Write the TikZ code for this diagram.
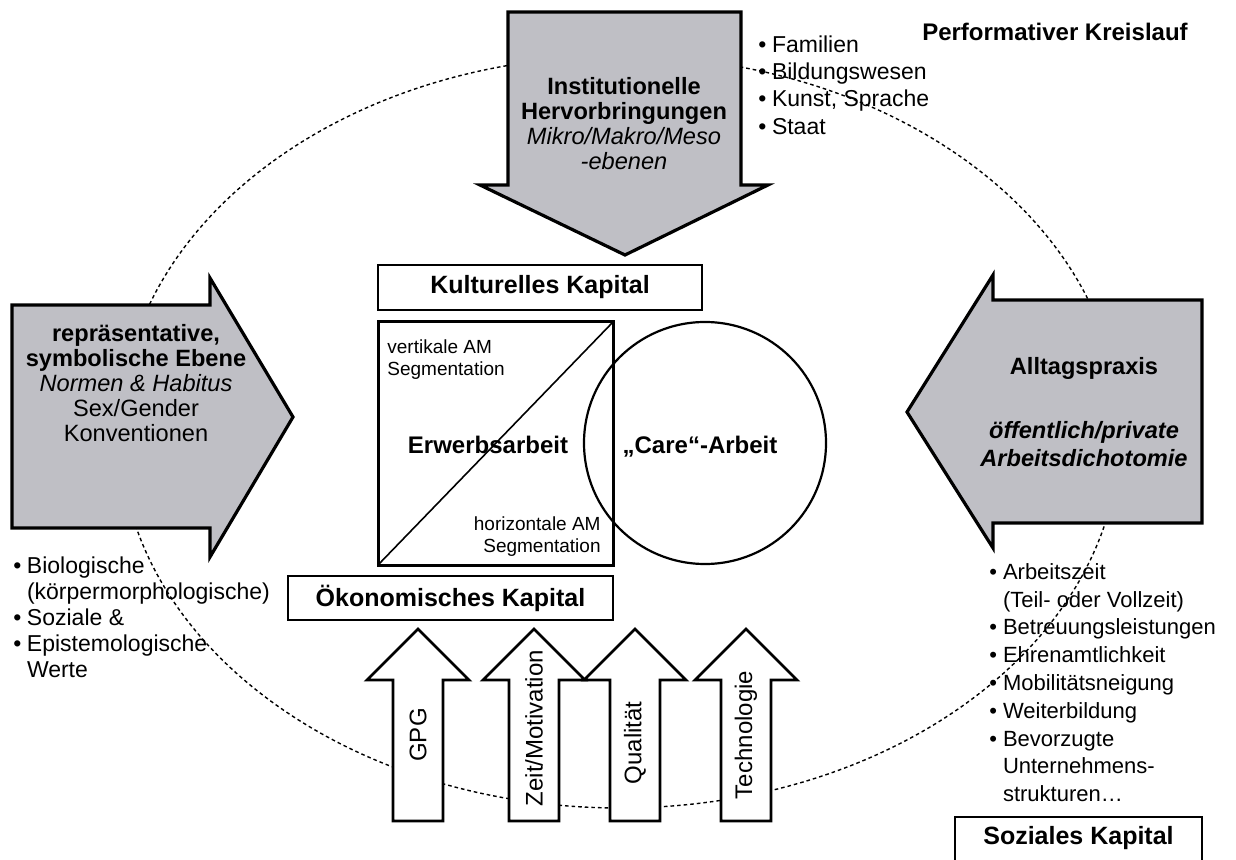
\documentclass[tikz,border=0pt]{standalone}
\usepackage{fontspec}
\setmainfont{Liberation Sans}
\usepackage{tikz}

\definecolor{pfeilgrau}{RGB}{191,191,197}

\newcommand{\punkt}{\makebox[6.8pt][l]{\textbullet}}
\newcommand{\einzug}{\hspace*{6.8pt}}

\tikzset{
    kreislauf/.style={line width=0.7pt, dash pattern=on 1.8pt off 1.5pt},
    grosspfeil/.style={draw=black, line width=1.6pt, fill=pfeilgrau, line join=miter},
    kleinpfeil/.style={draw=black, line width=1.4pt, fill=white, line join=miter},
    kapital/.style={draw=black, line width=1.4pt, fill=white, inner sep=0pt,
        font=\fontsize{12.5}{14}\selectfont\bfseries},
    pfeiltext/.style={align=center, inner sep=0pt, font=\fontsize{11.8}{12.5}\selectfont},
    liste/.style={align=left, anchor=north west, inner sep=0pt, font=\fontsize{11.5}{13.7}\selectfont},
    klein/.style={inner sep=0pt, font=\fontsize{9.5}{11}\selectfont},
}

\begin{document}
\begin{tikzpicture}[x=0.5pt, y=-0.5pt]
    \useasboundingbox (0,0) rectangle (1236,860);
    \clip (0,0) rectangle (1236,860);

    % Dotted circuit
    \draw[kreislauf] (620,432) ellipse [x radius=250pt, y radius=188pt];
    \node[font=\fontsize{12}{14}\selectfont\bfseries, inner sep=0pt] (titel) at (1055,32) {Performativer Kreislauf};

    % Big gray arrows
    \draw[grosspfeil] (508,12) -- (741,12) -- (741,185) -- (768,185) -- (625,255) -- (480,185) -- (508,185) -- cycle;
    \draw[grosspfeil] (12,305) -- (210,305) -- (210,278) -- (293,417) -- (210,557) -- (210,528) -- (12,528) -- cycle;
    \draw[grosspfeil] (1202,300) -- (993,300) -- (993,275) -- (907,412) -- (993,548) -- (993,523) -- (1202,523) -- cycle;

    % Texts of the big arrows
    \node[pfeiltext] (institution) at (624,124) {\textbf{Institutionelle}\\ \textbf{Hervorbringungen}\\ \textit{Mikro/Makro/Meso}\\ \textit{-ebenen}};
    \node[pfeiltext] (symbol) at (136,383) {\textbf{repräsentative,}\\ \textbf{symbolische Ebene}\\ \textit{Normen \& Habitus}\\ Sex/Gender\\ Konventionen};
    \node[pfeiltext, font=\fontsize{11.8}{14}\selectfont\bfseries] (alltag) at (1084,368) {Alltagspraxis};
    \node[pfeiltext, font=\fontsize{11.8}{14}\selectfont\bfseries\itshape] (dichotomie) at (1084,444) {öffentlich/private\\ Arbeitsdichotomie};

    % Lists
    \node[liste] (institutionen) at (758,35) {\punkt Familien\\ \punkt Bildungswesen\\ \punkt Kunst, Sprache\\ \punkt Staat};
    \node[liste, font=\fontsize{11.5}{13}\selectfont] (werte) at (13,556) {\punkt Biologische\\ \einzug(körpermorphologische)\\ \punkt Soziale \&\\ \punkt Epistemologische\\ \einzug Werte};
    \node[liste, font=\fontsize{11}{13.9}\selectfont] (praxis) at (989,563) {\punkt Arbeitszeit\\ \einzug(Teil- oder Vollzeit)\\ \punkt Betreuungsleistungen\\ \punkt Ehrenamtlichkeit\\ \punkt Mobilitätsneigung\\ \punkt Weiterbildung\\ \punkt Bevorzugte\\ \einzug Unternehmens-\\ \einzug strukturen…};

    % Capital boxes
    \node[kapital, minimum width=162pt, minimum height=22.5pt] (kultur) at (540,287.5) {Kulturelles Kapital};
    \node[kapital, minimum width=162.5pt, minimum height=22pt] (oekonomie) at (450.5,598) {Ökonomisches Kapital};
    \node[kapital, minimum width=123.5pt, minimum height=42pt] (sozial) at (1078.5,859) {};
    \node[font=\fontsize{12.5}{14}\selectfont\bfseries, inner sep=0pt] (sozialtext) at (1078.5,838) {Soziales Kapital};

    % Square and circle
    \draw[line width=1.5pt] (378,322) rectangle (613,565);
    \draw[line width=0.8pt] (378,565) -- (613,322);
    \draw[line width=1.1pt] (705,443) circle [radius=60.5pt];
    \node[klein, align=left, anchor=north west] (vertikal) at (387,339) {vertikale AM\\ Segmentation};
    \node[klein, align=right, anchor=north east] (horizontal) at (601,516) {horizontale AM\\ Segmentation};
    \node[font=\fontsize{12}{14}\selectfont\bfseries, inner sep=0pt] (erwerb) at (488,445) {Erwerbsarbeit};
    \node[font=\fontsize{12}{14}\selectfont\bfseries, inner sep=0pt] (care) at (700,447) {„Care“-Arbeit};

    % Small white arrows
    \foreach \cx/\name/\lab/\ly in {418/gpg/GPG/735, 534/zeit/{Zeit/Motivation}/728, 635/qual/Qualität/743, 746/tech/Technologie/735} {
        \draw[kleinpfeil] (\cx-25,821) -- (\cx-25,680) -- (\cx-51,680) -- (\cx,629) -- (\cx+51,680) -- (\cx+25,680) -- (\cx+25,821) -- cycle;
        \node[pfeiltext, font=\fontsize{12}{14}\selectfont, rotate=90] (\name) at (\cx,\ly) {\lab};
    }
\end{tikzpicture}
\end{document}
